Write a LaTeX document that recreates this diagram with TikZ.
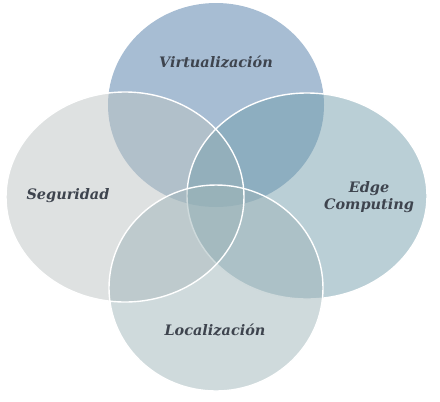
\documentclass[tikz,border=0pt]{standalone}
\usepackage{fontspec}
\setmainfont{DejaVu Serif}
\definecolor{cTop}{RGB}{79,123,167}
\definecolor{cLeft}{RGB}{189,195,195}
\definecolor{cRight}{RGB}{117,159,173}
\definecolor{cBottom}{RGB}{159,181,185}
\definecolor{cText}{RGB}{62,68,78}
\tikzset{
  blob/.style={fill opacity=0.5},
  rim/.style={draw=white, line width=1.4bp},
  lbl/.style={text=cText, font=\fontsize{14.5}{17}\selectfont\bfseries\itshape, align=center, inner sep=0pt}
}
\begin{document}
\begin{tikzpicture}[x=1bp, y=-1bp]
\useasboundingbox (0,0) rectangle (440,401);
\fill[cTop, blob] (216,105) ellipse [x radius=108, y radius=102];
\fill[cLeft, blob] (125,197) ellipse [x radius=119, y radius=105];
\fill[cRight, blob] (307,196) ellipse [x radius=120, y radius=103];
\draw[rim] (307,196) ellipse [x radius=120, y radius=103];
\fill[cBottom, blob] (216,288) ellipse [x radius=107, y radius=103];
\draw[rim] (125,197) ellipse [x radius=119, y radius=105];
\draw[rim] (216,288) ellipse [x radius=107, y radius=103];
\node[lbl] (virt) at (216,62) {Virtualización};
\node[lbl] (seg) at (68,196) {Seguridad};
\node[lbl] (edge) at (369,197) {Edge\\Computing};
\node[lbl] (loc) at (215,330) {Localización};
\end{tikzpicture}
\end{document}
